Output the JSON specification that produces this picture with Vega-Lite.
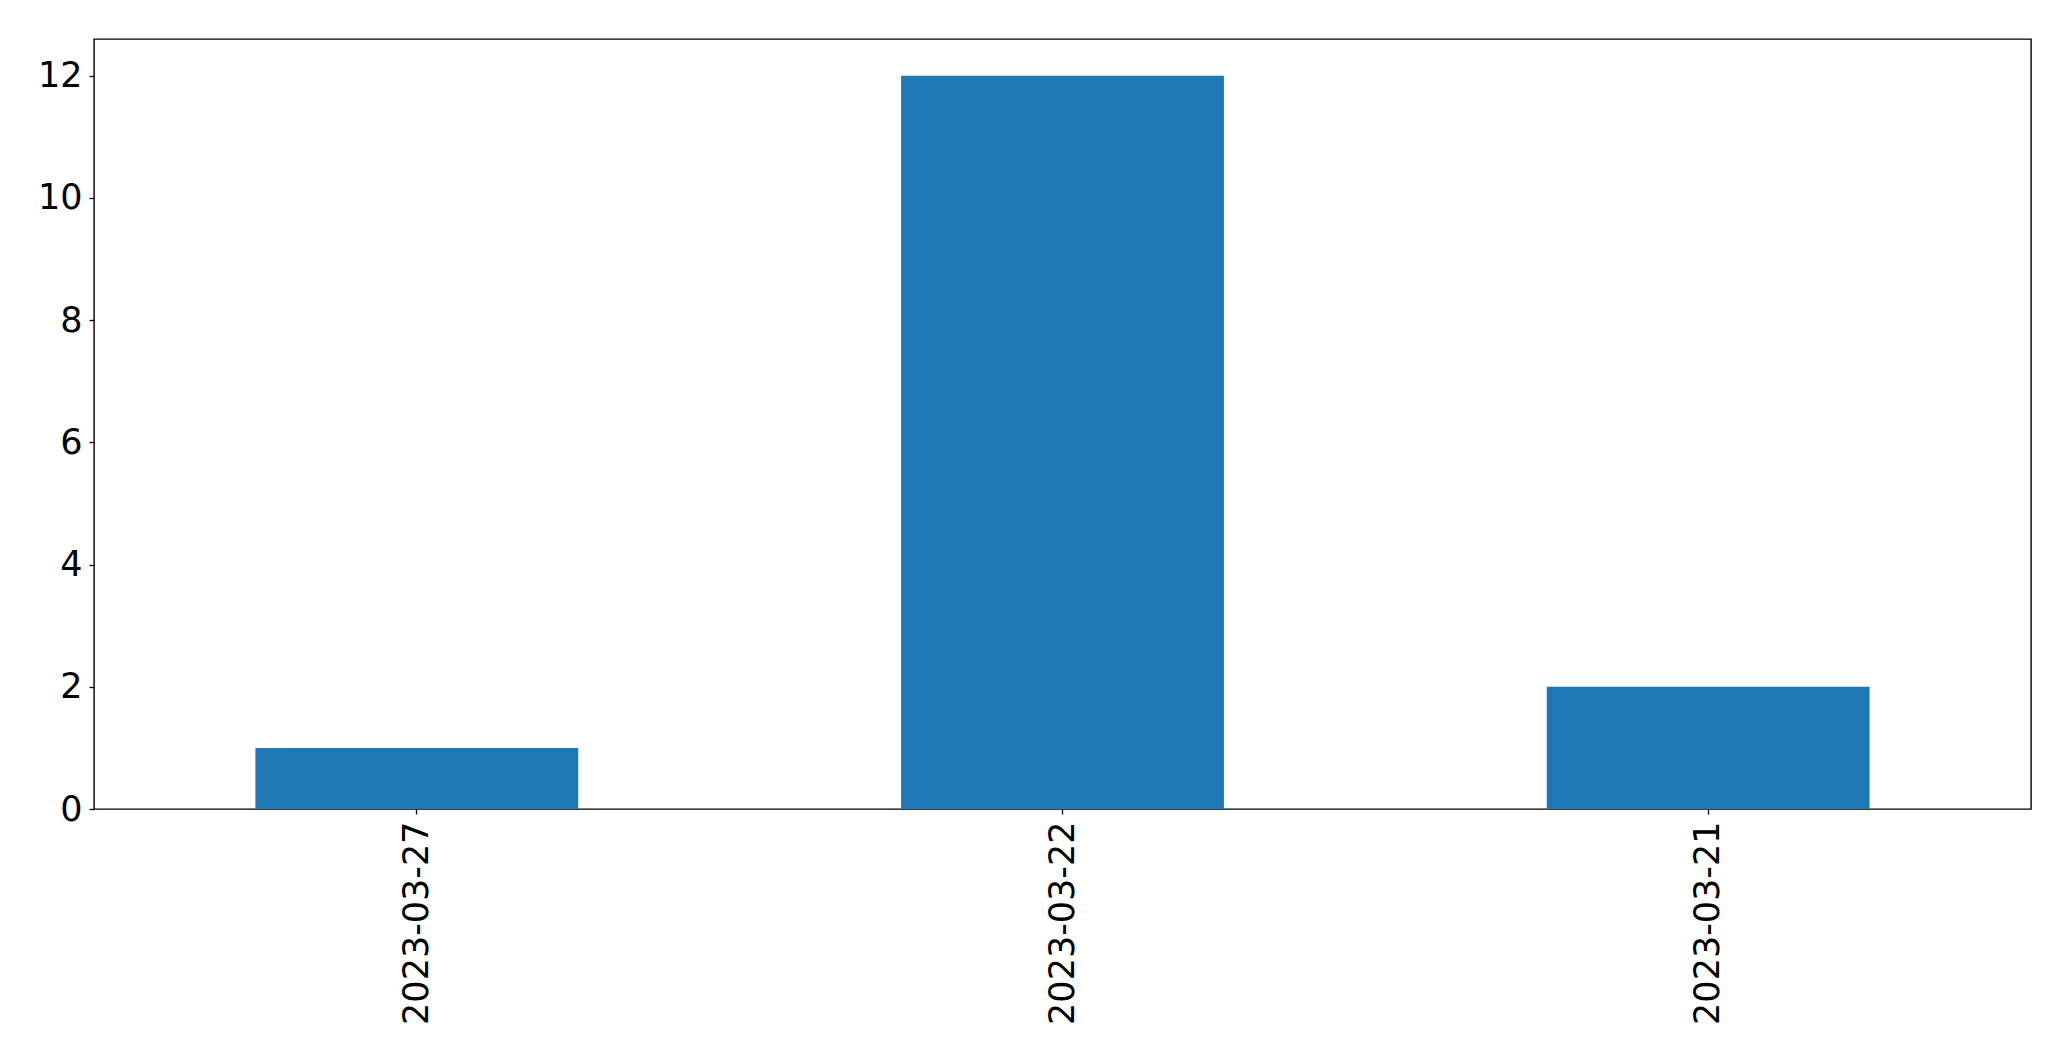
{
  "$schema": "https://vega.github.io/schema/vega-lite/v6.json",
  "autosize": {"type": "none"},
  "width": 1937,
  "height": 770,
  "padding": {"left": 94, "top": 39, "right": 40, "bottom": 252},
  "background": "white",
  "config": {
    "view": {"stroke": "black", "strokeWidth": 1.4},
    "axis": {
      "labelFont": "DejaVu Sans",
      "labelFontSize": 35,
      "labelColor": "black",
      "labelLimit": 0,
      "tickColor": "black",
      "tickSize": 5,
      "tickWidth": 1.3,
      "domain": false,
      "grid": false,
      "title": null
    }
  },
  "data": {
    "values": [
      {"date": "2023-03-27", "count": 1},
      {"date": "2023-03-22", "count": 12},
      {"date": "2023-03-21", "count": 2}
    ]
  },
  "mark": {"type": "bar", "color": "#1f77b4"},
  "encoding": {
    "x": {
      "field": "date",
      "type": "nominal",
      "sort": null,
      "scale": {"paddingInner": 0.5, "paddingOuter": 0.25},
      "axis": {"labelAngle": -90, "labelPadding": 7}
    },
    "y": {
      "field": "count",
      "type": "quantitative",
      "scale": {"domain": [0, 12.6], "nice": false},
      "axis": {"values": [0, 2, 4, 6, 8, 10, 12], "labelPadding": 7}
    }
  }
}
